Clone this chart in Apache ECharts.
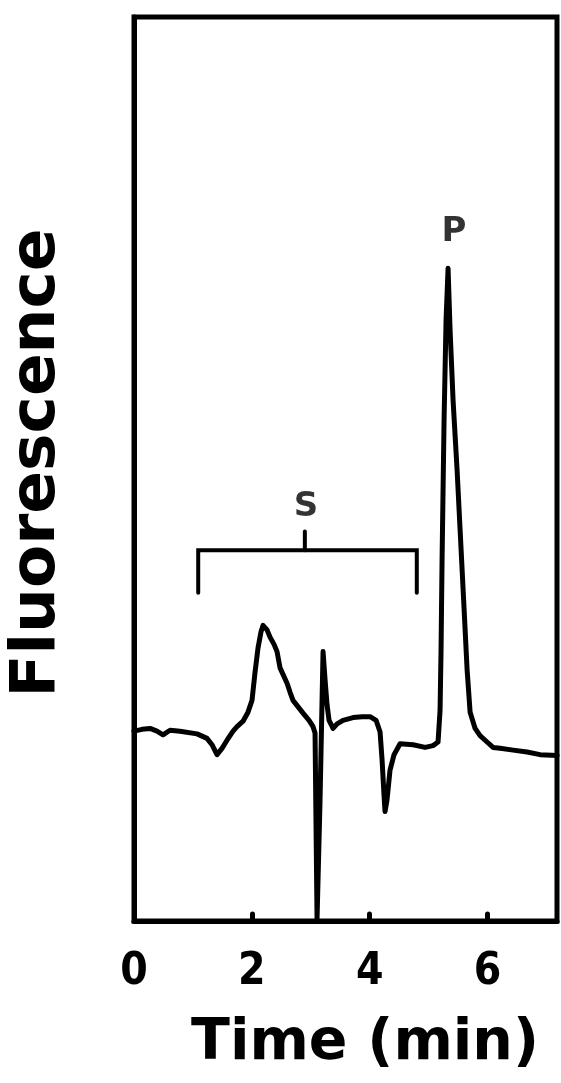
<!DOCTYPE html>
<html>
<head>
<meta charset="utf-8">
<script src="https://cdn.jsdelivr.net/npm/echarts@6/dist/echarts.min.js"></script>
<style>
html,body{margin:0;padding:0;background:#fff;}
#chart{width:561px;height:1083px;}
</style>
</head>
<body>
<div id="chart"></div>
<script>
// Trace: time (min) and fluorescence (arbitrary units, 0-100 = plot height)
var traceTime = [0.000,0.136,0.272,0.390,0.492,0.611,0.781,1.070,1.239,1.324,1.409,1.494,1.579,1.681,1.749,1.851,1.935,2.003,2.054,2.105,2.156,2.190,2.258,2.309,2.377,2.428,2.479,2.598,2.649,2.699,2.869,2.971,3.039,3.073,3.107,3.158,3.209,3.243,3.277,3.311,3.379,3.447,3.548,3.718,3.871,4.007,4.109,4.177,4.211,4.244,4.261,4.295,4.346,4.414,4.516,4.737,4.941,5.076,5.161,5.195,5.212,5.229,5.263,5.297,5.331,5.365,5.416,5.484,5.535,5.603,5.654,5.705,5.790,5.874,5.993,6.095,6.214,6.435,6.672,6.893,7.182];
var traceFluor = [21.0,21.2,21.3,21.0,20.6,21.1,21.0,20.7,20.2,19.5,18.4,19.1,20.0,21.0,21.5,22.1,23.1,24.4,27.5,30.2,32.0,32.7,32.2,31.4,30.6,29.8,28.0,26.3,25.3,24.4,23.0,22.2,21.5,20.8,0.2,13.4,29.8,26.7,23.9,22.2,21.3,21.8,22.2,22.5,22.6,22.6,22.2,20.9,17.8,13.9,12.1,13.4,16.7,18.4,19.6,19.5,19.2,19.4,19.8,23.3,30.0,39.9,55.4,66.5,72.2,65.4,57.6,49.9,43.3,34.5,27.8,23.1,21.3,20.5,19.8,19.2,19.1,18.9,18.7,18.4,18.3];

// Bracket marking S
var bracketTime = [1.09,1.09,4.80,4.80];
var bracketFluor = [36.3,41.0,41.0,36.3];
var stemTime = [2.90,2.90];
var stemFluor = [41.0,43.1];

// Peak labels
var peakNames = ['S','P'];
var peakTime = [2.92,5.43];
var peakFluor = [45.8,76.2];

var xTicks = [0,2,4,6];

function pairs(a,b){return a.map(function(v,i){return [v,b[i]];});}

var chart = echarts.init(document.getElementById('chart'));
chart.setOption({
  animation:false,
  backgroundColor:'#fff',
  grid:{left:134,right:4,top:17,bottom:162,show:true,borderColor:'#000',borderWidth:5,backgroundColor:'transparent'},
  xAxis:{
    type:'value',min:0,max:7.18,interval:2,
    axisLine:{show:true,lineStyle:{color:'#000',width:5}},
    axisTick:{show:true,inside:true,length:7,lineStyle:{color:'#000',width:5,cap:'round'}},
    splitLine:{show:false},
    axisLabel:{show:true,margin:30,showMaxLabel:false,color:'#000',fontSize:44,fontWeight:'bold',
      fontFamily:'"Liberation Sans Narrow","DejaVu Sans Condensed",sans-serif',
      formatter:function(v){return xTicks.indexOf(v)>=0?String(v):'';}}
  },
  yAxis:{
    type:'value',min:0,max:100,
    axisLine:{show:true,lineStyle:{color:'#000',width:5}},
    axisTick:{show:false},axisLabel:{show:false},splitLine:{show:false}
  },
  graphic:[
    {type:'text',x:365,y:1044,style:{text:'Time (min)',font:'bold 57px "DejaVu Sans",sans-serif',fill:'#000',textAlign:'center',textVerticalAlign:'middle'}},
    {type:'text',x:38,y:463,rotation:Math.PI/2,style:{text:'Fluorescence',font:'bold 63px "DejaVu Sans",sans-serif',fill:'#000',textAlign:'center',textVerticalAlign:'middle'}}
  ],
  series:[
    {type:'line',data:pairs(traceTime,traceFluor),showSymbol:false,smooth:false,
      lineStyle:{color:'#000',width:5,join:'round',cap:'round'}},
    {type:'line',data:pairs(bracketTime,bracketFluor),showSymbol:false,
      lineStyle:{color:'#000',width:4,join:'miter',cap:'round'}},
    {type:'line',data:pairs(stemTime,stemFluor),showSymbol:false,
      lineStyle:{color:'#000',width:4,cap:'round'}},
    {type:'scatter',data:pairs(peakTime,peakFluor).map(function(p,i){return {value:p,name:peakNames[i]};}),
      symbolSize:0,
      label:{show:true,position:'inside',formatter:function(p){return p.name;},color:'#000',fontSize:34,fontWeight:'bold',fontFamily:'"DejaVu Sans",sans-serif'}}
  ]
});
</script>
</body>
</html>
